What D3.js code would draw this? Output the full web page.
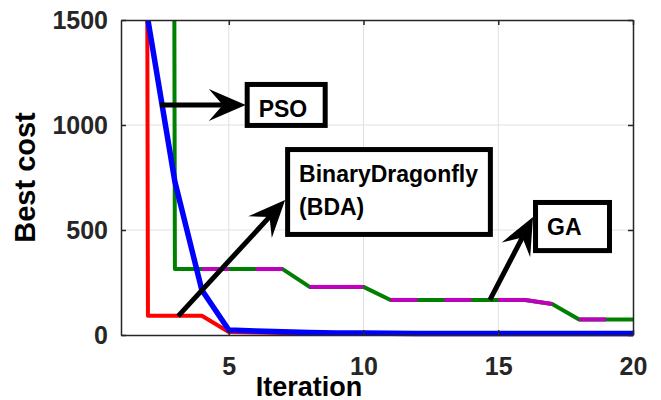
<!DOCTYPE html>
<html>
<head>
<meta charset="utf-8">
<script src="https://cdn.jsdelivr.net/npm/d3@7"></script>
<style>
  body { margin: 0; background: #fff; }
  text { font-family: "Liberation Sans", Arial, Helvetica, sans-serif; font-weight: bold; }
</style>
</head>
<body>
<div id="chart"></div>
<script>
// Chart data
var iterations = d3.range(1, 21);
// values above 1500 are off the top of the axes
var bdaCost = [60000, 92, 92, 92, 14, 12, 10, 9, 8, 7, 7, 6, 6, 6, 6, 6, 6, 6, 6, 6];
var psoCost = [60000, 1500, 730, 214, 24, 19, 15, 12, 10, 9, 8, 7, 7, 7, 7, 7, 7, 7, 7, 7];
var gaCost = [60000, 60000, 314, 314, 314, 314, 314, 229, 229, 229, 167, 167, 167, 167, 167, 167, 148, 74, 74, 74];
// colour of each GA segment (from iteration i to i+1), "m" = magenta
var gaSegments = ["g", "g", "g", "m", "g", "m", "g", "m", "m", "g", "m", "g", "m", "g", "m", "m", "g", "m", "g"];
var xTicks = [5, 10, 15, 20];
var yTicks = [0, 500, 1000, 1500];

// Annotation boxes and arrows, in data units
var notes = [
  { lines: ["PSO"], from: [2.45, 1095], to: [5.63, 1095], box: [5.59, 1205, 8.67, 986] },
  { lines: ["BinaryDragonfly", "(BDA)"], from: [3.12, 90], to: [7.09, 643], box: [7.09, 895, 14.8, 467] },
  { lines: ["GA"], from: [14.69, 167], to: [16.29, 562], box: [16.29, 643, 19.22, 390] }
];

var svgWidth = 661;
var svgHeight = 400;
var margin = { top: 20, right: 28, bottom: 65, left: 121 };
var width = svgWidth - margin.left - margin.right;
var height = svgHeight - margin.top - margin.bottom;

var svg = d3.select("#chart")
  .append("svg")
  .attr("width", svgWidth)
  .attr("height", svgHeight);

var chartGroup = svg.append("g")
  .attr("transform", `translate(${margin.left}, ${margin.top})`);

var xScale = d3.scaleLinear().domain([1, 20]).range([0, width]);
var yScale = d3.scaleLinear().domain([0, 1500]).range([height, 0]);

// grid
chartGroup.selectAll(".vgrid")
  .data(xTicks.filter(d => d < 20))
  .enter().append("line")
  .attr("x1", d => xScale(d)).attr("x2", d => xScale(d))
  .attr("y1", 0).attr("y2", height)
  .attr("stroke", "#e0e0e0").attr("stroke-width", 1);
chartGroup.selectAll(".hgrid")
  .data(yTicks.filter(d => d > 0 && d < 1500))
  .enter().append("line")
  .attr("y1", d => yScale(d)).attr("y2", d => yScale(d))
  .attr("x1", 0).attr("x2", width)
  .attr("stroke", "#e0e0e0").attr("stroke-width", 1);

// clip lines at the top of the axes
svg.append("defs").append("clipPath").attr("id", "plotClip")
  .append("rect")
  .attr("x", -10).attr("y", 0)
  .attr("width", width + 20).attr("height", height + 10);

var plot = chartGroup.append("g").attr("clip-path", "url(#plotClip)");

var line = d3.line()
  .x((d, i) => xScale(iterations[i]))
  .y(d => yScale(d));

plot.append("path")
  .datum(bdaCost)
  .attr("d", line)
  .attr("fill", "none")
  .attr("stroke", "#ff0000")
  .attr("stroke-width", 4)
  .attr("stroke-linejoin", "round");

// GA: green line with magenta segments on top
plot.append("path")
  .datum(gaCost)
  .attr("d", line)
  .attr("fill", "none")
  .attr("stroke", "#008000")
  .attr("stroke-width", 4)
  .attr("stroke-linejoin", "round");

plot.selectAll(".gaSeg")
  .data(gaSegments.map((c, i) => ({ c: c, i: i })).filter(d => d.c == "m"))
  .enter().append("line")
  .attr("x1", d => xScale(iterations[d.i]))
  .attr("y1", d => yScale(gaCost[d.i]))
  .attr("x2", d => xScale(iterations[d.i + 1]))
  .attr("y2", d => yScale(gaCost[d.i + 1]))
  .attr("stroke", "#bf00bf")
  .attr("stroke-width", 4);

plot.append("path")
  .datum(psoCost)
  .attr("d", line)
  .attr("fill", "none")
  .attr("stroke", "#0000ff")
  .attr("stroke-width", 5.5)
  .attr("stroke-linejoin", "round");

// axes, MATLAB style box with inward ticks
var axisColor = "#262626";
var bottomAxis = d3.axisBottom(xScale).tickValues(xTicks).tickFormat(d3.format("d"))
  .tickSizeInner(-5).tickSizeOuter(0).tickPadding(22);
var leftAxis = d3.axisLeft(yScale).tickValues(yTicks).tickFormat(d3.format("d"))
  .tickSizeInner(-5).tickSizeOuter(0).tickPadding(13);
var topAxis = d3.axisTop(xScale).tickValues(xTicks).tickSizeInner(-5).tickSizeOuter(0).tickFormat("");
var rightAxis = d3.axisRight(yScale).tickValues(yTicks).tickSizeInner(-5).tickSizeOuter(0).tickFormat("");

var axes = [
  chartGroup.append("g").attr("transform", `translate(0, ${height})`).call(bottomAxis),
  chartGroup.append("g").call(leftAxis),
  chartGroup.append("g").call(topAxis),
  chartGroup.append("g").attr("transform", `translate(${width}, 0)`).call(rightAxis)
];
axes.forEach(function(g) {
  g.selectAll("path, line").attr("stroke", axisColor).attr("stroke-width", 1.5);
  g.selectAll("text")
    .attr("fill", axisColor)
    .style("font-size", "25px")
    .style("font-family", '"Liberation Sans", Arial, sans-serif')
    .style("font-weight", "bold");
});

// axis titles
chartGroup.append("text")
  .attr("transform", "rotate(-90)")
  .attr("x", 0 - height / 2)
  .attr("y", 35 - margin.left)
  .attr("text-anchor", "middle")
  .style("font-size", "29px")
  .attr("fill", "#000")
  .text("Best cost");

chartGroup.append("text")
  .attr("x", 309 - margin.left)
  .attr("y", 396 - margin.top)
  .attr("text-anchor", "middle")
  .style("font-size", "27px")
  .attr("fill", "#000")
  .text("Iteration");

// annotations: arrows then boxes
notes.forEach(function(n) {
  var x0 = xScale(n.from[0]), y0 = yScale(n.from[1]);
  var x1 = xScale(n.to[0]), y1 = yScale(n.to[1]);
  var dx = x1 - x0, dy = y1 - y0, len = Math.sqrt(dx * dx + dy * dy);
  var ux = dx / len, uy = dy / len;
  var headLen = 37, notch = 23, half = 16;
  var bx = x1 - ux * headLen, by = y1 - uy * headLen;
  var nx = x1 - ux * notch, ny = y1 - uy * notch;

  chartGroup.append("line")
    .attr("x1", x0).attr("y1", y0)
    .attr("x2", nx).attr("y2", ny)
    .attr("stroke", "#000").attr("stroke-width", 5);

  chartGroup.append("path")
    .attr("d", `M${x1},${y1}L${bx - uy * half},${by + ux * half}L${nx},${ny}L${bx + uy * half},${by - ux * half}Z`)
    .attr("fill", "#000");

  var left = xScale(n.box[0]), top = yScale(n.box[1]);
  var right = xScale(n.box[2]), bottom = yScale(n.box[3]);
  chartGroup.append("rect")
    .attr("x", left + 2.5).attr("y", top + 2.5)
    .attr("width", right - left - 5).attr("height", bottom - top - 5)
    .attr("fill", "#fff")
    .attr("stroke", "#000").attr("stroke-width", 5);

  n.lines.forEach(function(t, i) {
    chartGroup.append("text")
      .attr("x", left + 14)
      .attr("y", top + 35 + i * 33)
      .style("font-size", "23px")
      .attr("fill", "#000")
      .text(t);
  });
});
</script>
</body>
</html>
